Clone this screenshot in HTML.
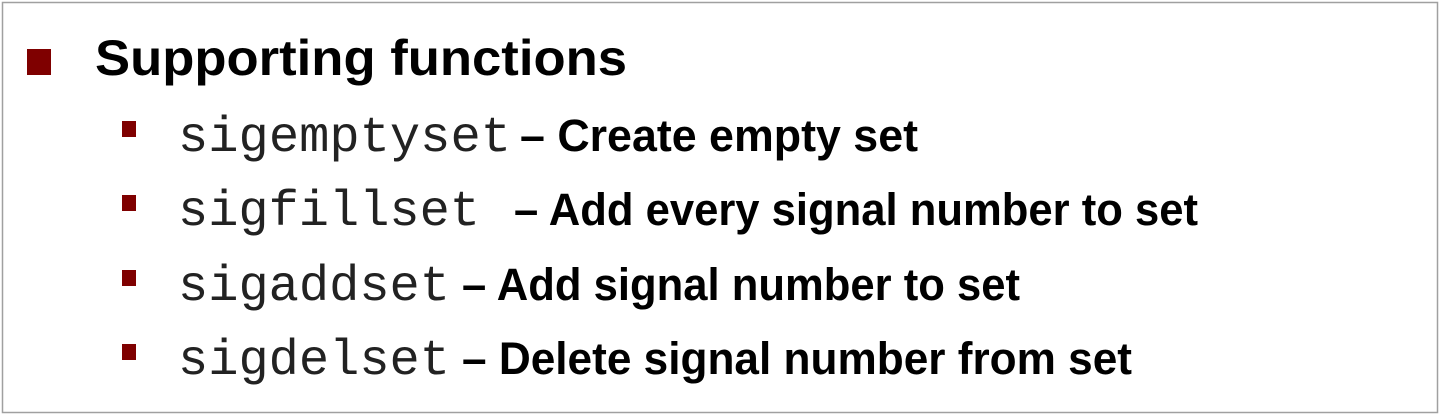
<!DOCTYPE html>
<html><head><meta charset="utf-8"><style>
html,body{margin:0;padding:0;background:#fff;}
svg{display:block}
</style></head><body>
<svg width="1440" height="415" viewBox="0 0 1440 415" xmlns="http://www.w3.org/2000/svg">
<rect x="0" y="0" width="1440" height="415" fill="#fff"/>
<rect x="2.5" y="2.5" width="1435" height="410" fill="none" stroke="#a0a0a0" stroke-width="1.5"/>
<rect x="27" y="49" width="24" height="26" fill="#7f0000"/>
<text x="95" y="75" font-family="Liberation Sans, sans-serif" font-weight="bold" font-size="50" textLength="532" lengthAdjust="spacingAndGlyphs" fill="#000">Supporting functions</text>
<g fill="#7f0000">
<rect x="122" y="121" width="14" height="16"/>
<rect x="122" y="195" width="14" height="16"/>
<rect x="122" y="270" width="14" height="16"/>
<rect x="122" y="344" width="14" height="16"/>
</g>
<g font-family="Liberation Mono, monospace" font-size="50" fill="#222">
<text x="178" y="151" textLength="333" lengthAdjust="spacingAndGlyphs">sigemptyset</text>
<text x="178" y="225" textLength="302" lengthAdjust="spacingAndGlyphs">sigfillset</text>
<text x="178" y="300" textLength="272" lengthAdjust="spacingAndGlyphs">sigaddset</text>
<text x="178" y="374" textLength="272" lengthAdjust="spacingAndGlyphs">sigdelset</text>
</g>
<g font-family="Liberation Sans, sans-serif" font-weight="bold" font-size="45" fill="#000">
<text x="520" y="151" textLength="398" lengthAdjust="spacingAndGlyphs">– Create empty set</text>
<text x="514" y="225" textLength="684" lengthAdjust="spacingAndGlyphs">– Add every signal number to set</text>
<text x="462" y="300" textLength="558" lengthAdjust="spacingAndGlyphs">– Add signal number to set</text>
<text x="462" y="374" textLength="670" lengthAdjust="spacingAndGlyphs">– Delete signal number from set</text>
</g>
</svg>
</body></html>
